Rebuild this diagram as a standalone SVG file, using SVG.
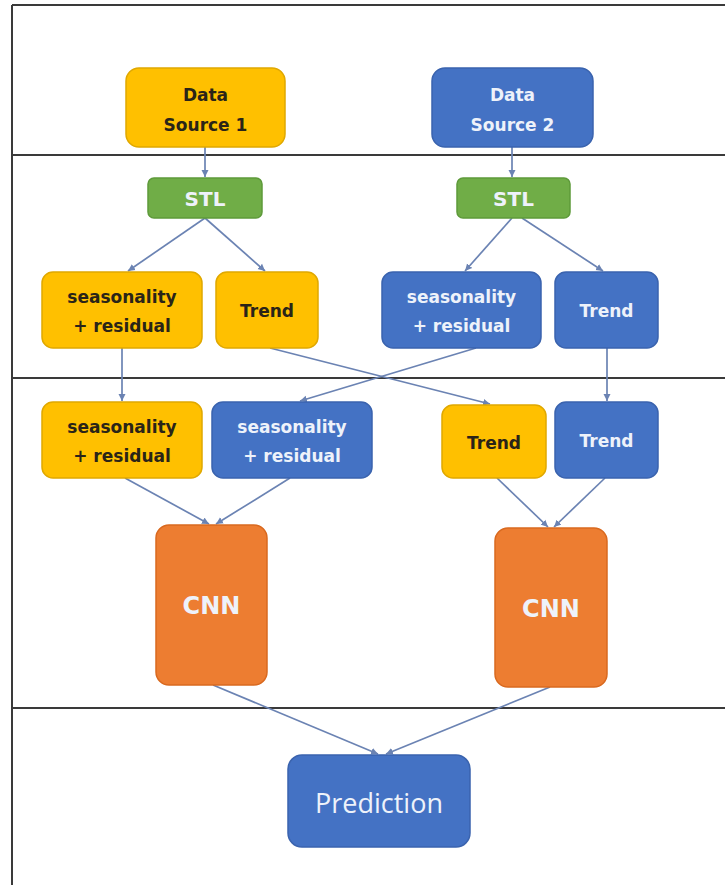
<svg xmlns="http://www.w3.org/2000/svg" width="725" height="885" viewBox="0 0 725 885">
<defs>
<style>
.frame{stroke:#3a3a3a;stroke-width:2;fill:none}
.y{fill:#FFC000;stroke:#E0A800;stroke-width:1.5}
.b{fill:#4472C4;stroke:#3A63AE;stroke-width:1.5}
.g{fill:#70AD47;stroke:#5E9A3A;stroke-width:1.5}
.o{fill:#ED7D31;stroke:#D9691F;stroke-width:1.5}
.t{font-family:"DejaVu Sans","Liberation Sans",sans-serif;font-weight:bold;font-size:17px;text-anchor:middle}
.dk{fill:#2a2418}
.lt{fill:#EEF2FA}
.conn line{stroke:#6B83B3;stroke-width:1.7;marker-end:url(#ah)}
</style>
<marker id="ah" markerWidth="8" markerHeight="8" refX="7" refY="4" orient="auto" markerUnits="userSpaceOnUse">
<path d="M0,0.5 L7,4 L0,7.5 Z" fill="#6B83B3"/>
</marker>
</defs>
<rect width="725" height="885" fill="#ffffff"/>
<g id="frame">
<line class="frame" x1="12" y1="5" x2="725" y2="5"/>
<line class="frame" x1="12" y1="5" x2="12" y2="885"/>
<line class="frame" x1="12" y1="155" x2="725" y2="155"/>
<line class="frame" x1="12" y1="378" x2="725" y2="378"/>
<line class="frame" x1="12" y1="708" x2="725" y2="708"/>
</g>
<g class="conn" id="connectors">
<line x1="205" y1="147" x2="205" y2="177"/>
<line x1="512" y1="147" x2="512" y2="177"/>
<line x1="205" y1="218" x2="128" y2="271"/>
<line x1="205" y1="218" x2="265" y2="271"/>
<line x1="512" y1="218" x2="465" y2="271"/>
<line x1="522" y1="218" x2="603" y2="271"/>
<line x1="122" y1="348" x2="122" y2="401"/>
<line x1="270" y1="348" x2="490" y2="404"/>
<line x1="476" y1="348" x2="300" y2="401"/>
<line x1="607" y1="348" x2="607" y2="401"/>
<line x1="125" y1="478" x2="209" y2="524"/>
<line x1="290" y1="478" x2="216" y2="524"/>
<line x1="497" y1="478" x2="548" y2="527"/>
<line x1="605" y1="478" x2="554" y2="527"/>
<line x1="213" y1="685" x2="378" y2="754"/>
<line x1="550" y1="687" x2="386" y2="754"/>
</g>
<g id="ds1"><rect class="y" x="126" y="68" width="159" height="79" rx="13"/>
<text class="t dk" x="205.5" y="101">Data</text><text class="t dk" x="205.5" y="131">Source 1</text></g>
<g id="ds2"><rect class="b" x="432" y="68" width="161" height="79" rx="13"/>
<text class="t lt" x="512.5" y="101">Data</text><text class="t lt" x="512.5" y="131">Source 2</text></g>
<g id="stl1"><rect class="g" x="148" y="178" width="114" height="40" rx="6"/>
<text class="t lt" x="205" y="206" style="font-size:20px">STL</text></g>
<g id="stl2"><rect class="g" x="457" y="178" width="113" height="40" rx="6"/>
<text class="t lt" x="513.5" y="206" style="font-size:20px">STL</text></g>
<g id="sr1"><rect class="y" x="42" y="272" width="160" height="76" rx="11"/>
<text class="t dk" x="122" y="303">seasonality</text><text class="t dk" x="122" y="332">+ residual</text></g>
<g id="tr1"><rect class="y" x="216" y="272" width="102" height="76" rx="11"/>
<text class="t dk" x="267" y="317">Trend</text></g>
<g id="sr2"><rect class="b" x="382" y="272" width="159" height="76" rx="11"/>
<text class="t lt" x="461.5" y="303">seasonality</text><text class="t lt" x="461.5" y="332">+ residual</text></g>
<g id="tr2"><rect class="b" x="555" y="272" width="103" height="76" rx="11"/>
<text class="t lt" x="606.5" y="317">Trend</text></g>
<g id="sr1b"><rect class="y" x="42" y="402" width="160" height="76" rx="11"/>
<text class="t dk" x="122" y="433">seasonality</text><text class="t dk" x="122" y="462">+ residual</text></g>
<g id="sr2b"><rect class="b" x="212" y="402" width="160" height="76" rx="11"/>
<text class="t lt" x="292" y="433">seasonality</text><text class="t lt" x="292" y="462">+ residual</text></g>
<g id="tr1b"><rect class="y" x="442" y="405" width="104" height="73" rx="11"/>
<text class="t dk" x="494" y="449">Trend</text></g>
<g id="tr2b"><rect class="b" x="555" y="402" width="103" height="76" rx="11"/>
<text class="t lt" x="606.5" y="447">Trend</text></g>
<g id="cnn1"><rect class="o" x="156" y="525" width="111" height="160" rx="13"/>
<text class="t lt" x="211.5" y="614" style="font-size:24px">CNN</text></g>
<g id="cnn2"><rect class="o" x="495" y="528" width="112" height="159" rx="13"/>
<text class="t lt" x="551" y="617" style="font-size:24px">CNN</text></g>
<g id="pred"><rect class="b" x="288" y="755" width="182" height="92" rx="14"/>
<text x="379" y="813" text-anchor="middle" font-family="'Open Sans','Liberation Sans',sans-serif" font-size="27" fill="#EEF2FA">Prediction</text></g>
</svg>
